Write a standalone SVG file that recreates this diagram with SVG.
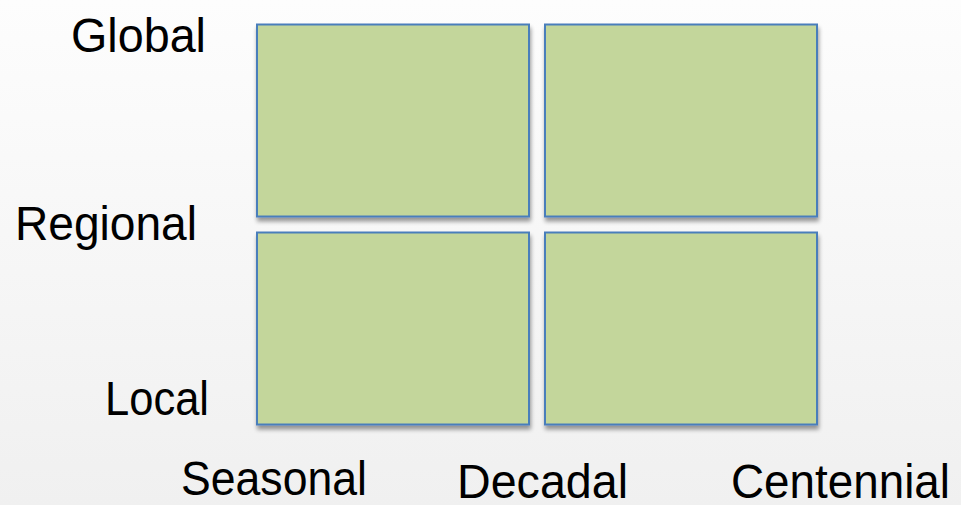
<svg xmlns="http://www.w3.org/2000/svg" width="961" height="505" viewBox="0 0 961 505">
  <style>
    .lbl { font-family: "Liberation Sans", Arial, sans-serif; font-size: 49px; fill: #000; }
    .cell { fill: #c3d69b; stroke: #4a7ebb; stroke-width: 2; filter: url(#shadow); }
  </style>
  <defs>
    <linearGradient id="bg" x1="0" y1="0" x2="0" y2="1">
      <stop offset="0" stop-color="#fdfdfd"/>
      <stop offset="1" stop-color="#f0f0f0"/>
    </linearGradient>
    <filter id="shadow" x="-5%" y="-5%" width="115%" height="120%">
      <feGaussianBlur in="SourceAlpha" stdDeviation="2.2"/>
      <feOffset dx="1" dy="3.5" result="b"/>
      <feComponentTransfer><feFuncA type="linear" slope="0.4"/></feComponentTransfer>
      <feMerge><feMergeNode/><feMergeNode in="SourceGraphic"/></feMerge>
    </filter>
  </defs>
  <rect width="961" height="505" fill="url(#bg)"/>
  <g id="cell-global-seasonal"><rect class="cell" x="257" y="24.5" width="272" height="192"/></g>
  <g id="cell-global-decadal"><rect class="cell" x="545" y="24.5" width="272" height="192"/></g>
  <g id="cell-local-seasonal"><rect class="cell" x="257" y="232.5" width="272" height="192"/></g>
  <g id="cell-local-decadal"><rect class="cell" x="545" y="232.5" width="272" height="192"/></g>
  <g id="labels">
    <text class="lbl" x="71" y="52" textLength="135" lengthAdjust="spacingAndGlyphs">Global</text>
    <text class="lbl" x="15" y="240" textLength="182" lengthAdjust="spacingAndGlyphs">Regional</text>
    <text class="lbl" x="105" y="415" textLength="104" lengthAdjust="spacingAndGlyphs">Local</text>
    <text class="lbl" x="181" y="495" textLength="186" lengthAdjust="spacingAndGlyphs">Seasonal</text>
    <text class="lbl" x="457" y="498" textLength="171" lengthAdjust="spacingAndGlyphs">Decadal</text>
    <text class="lbl" x="731" y="498" textLength="219" lengthAdjust="spacingAndGlyphs">Centennial</text>
  </g>
  <g id="connectors"/>
</svg>
